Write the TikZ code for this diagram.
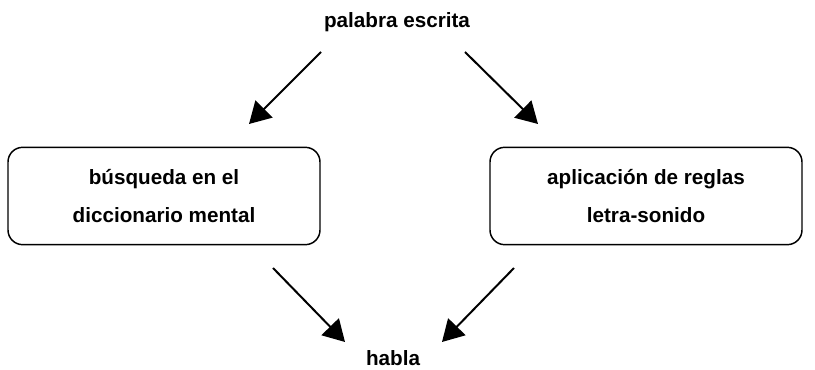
\documentclass[tikz,border=0pt]{standalone}
\usepackage{fontspec}
\setmainfont{Liberation Sans}
\usepackage{tikz}
\usetikzlibrary{arrows.meta, positioning}
\tikzset{
    wordlabel/.style={font=\bfseries\fontsize{15.5}{18}\selectfont},
    routebox/.style={
        draw,
        line width=1.1pt,
        rounded corners=11pt,
        minimum width=234pt,
        minimum height=73pt,
        align=center,
        font=\bfseries\fontsize{15.5}{28}\selectfont
    },
    routearrow/.style={
        line width=1.5pt,
        -{Triangle[length=16pt, width=18pt]}
    }
}

\begin{document}
\begin{tikzpicture}[x=0.75pt, y=-0.75pt]
            \useasboundingbox (0,0) rectangle (815,370);
            % top and bottom words
            \node[wordlabel] (palabra) at (397,22) {palabra escrita};
            \node[wordlabel] (habla) at (393,358) {habla};
            % the two routes
            \node[routebox] (busqueda) at (164,196) {b\'usqueda en el\\diccionario mental};
            \node[routebox] (reglas) at (646,196) {aplicaci\'on de reglas\\letra-sonido};
            % connectors
            \coordinate (p1) at (321,52);
            \coordinate (p2) at (465,52);
            \coordinate (t1) at (249,124);
            \coordinate (t2) at (538,124);
            \coordinate (b1) at (273,268);
            \coordinate (b2) at (514,268);
            \coordinate (h1) at (345,342);
            \coordinate (h2) at (442,342);
            \draw[routearrow] (p1) -- (t1);
            \draw[routearrow] (p2) -- (t2);
            \draw[routearrow] (b1) -- (h1);
            \draw[routearrow] (b2) -- (h2);
        \end{tikzpicture}
\end{document}
